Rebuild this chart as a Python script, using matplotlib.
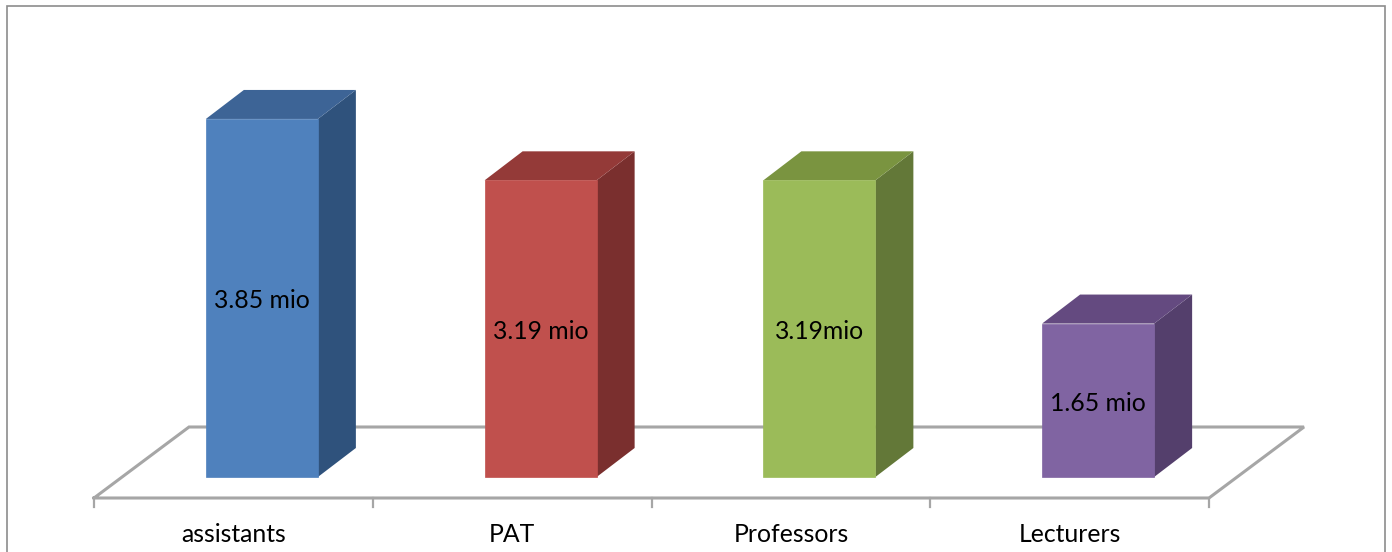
import matplotlib
matplotlib.use("Agg")
import matplotlib.pyplot as plt
from matplotlib.patches import Polygon, Rectangle

categories = ["assistants", "PAT", "Professors", "Lecturers"]
values = [3.85, 3.19, 3.19, 1.65]
value_labels = ["3.85 mio", "3.19 mio", "3.19mio", "1.65 mio"]
front_colors = ["#4F81BD", "#C0504D", "#9BBB59", "#8064A2"]
side_colors = ["#2F527C", "#7A2F2E", "#637838", "#543F6C"]
top_colors = ["#3D6496", "#943A38", "#7A9440", "#644A80"]

W, H = 1392, 552
PX_X = 278.75       # pixels per category
PX_Y = 93.0         # pixels per unit of value
X0 = 94             # pixel of left end of axis
Y0 = 477            # pixel (from top) of value 0 at bar fronts
GRAY = "#A6A6A6"

plt.rcParams["font.family"] = ["Lato", "DejaVu Sans"]
fig = plt.figure(figsize=(W / 100, H / 100), dpi=100, facecolor="white")
ax = fig.add_axes([0, 0, 1, 1])
ax.set_xlim(-0.5 - X0 / PX_X, -0.5 + (W - X0) / PX_X)
ax.set_ylim(-(H - Y0) / PX_Y, Y0 / PX_Y)
ax.axis("off")

def dx(p):
    return p / PX_X

def dy(p):
    return p / PX_Y

# outer frame
ax.add_patch(Rectangle((ax.get_xlim()[0] + dx(7), ax.get_ylim()[0] - 1), dx(1378),
                       dy(H - 6) + 1, fill=False, ec="#8C8C8C", lw=1.2, zorder=1))

# floor
front_y = dy(Y0 - 498)
back_y = dy(Y0 - 427)
floor_dx = dx(95)
xl, xr = -0.5, 3.5
ax.plot([xl, xl + floor_dx, xr + floor_dx, xr, xl],
        [front_y, back_y, back_y, front_y, front_y],
        color=GRAY, lw=2.2, solid_joinstyle="miter", zorder=2)
for i in range(5):
    ax.plot([i - 0.5, i - 0.5], [front_y, front_y - dy(9)], color=GRAY, lw=1.6, zorder=2)

# bars
bar_w = 112 / PX_X
shift = dx(28.5)
depth_x, depth_y = dx(38), dy(29)
for i, v in enumerate(values):
    c = i + shift
    l, r = c - bar_w / 2, c + bar_w / 2
    ax.add_patch(Polygon([(r, 0), (r + depth_x, depth_y), (r + depth_x, v + depth_y), (r, v)],
                         fc=side_colors[i], ec="none", zorder=3))
    ax.add_patch(Polygon([(l, v), (l + depth_x, v + depth_y), (r + depth_x, v + depth_y), (r, v)],
                         fc=top_colors[i], ec="none", zorder=3))
    ax.bar(c, v, width=bar_w, color=front_colors[i], edgecolor=front_colors[i], linewidth=0.5, zorder=4)
    ax.text(i + shift, v / 2 - dy(3), value_labels[i], ha="center", va="center",
            fontsize=17.8, color="black", zorder=5)
    ax.text(i, dy(Y0 - 534), categories[i], ha="center", va="center",
            fontsize=17.8, color="black", zorder=5)

fig.savefig("out.png", dpi=100, facecolor="white")
